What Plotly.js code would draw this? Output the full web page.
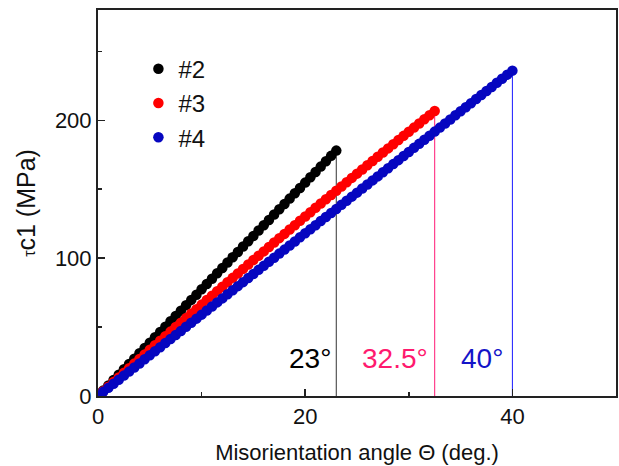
<!DOCTYPE html>
<html>
<head>
<meta charset="utf-8">
<script src="https://cdn.plot.ly/plotly-3.0.1.min.js"></script>
<style>html,body{margin:0;padding:0;background:#fff;}</style>
</head>
<body>
<div id="chart" style="width:619px;height:466px;"></div>
<script>
// Sampling step of the angle grid (deg.)
const step = 0.5;

// Series #2 (0 .. 23 deg.)
const tau2 = [0,3.9,7.7,11.6,15.5,19.4,23.2,27.1,31.0,34.8,38.7,42.6,46.4,50.3,54.2,58.1,61.9,65.8,69.7,73.5,77.4,81.3,85.1,89.0,92.9,96.8,100.6,104.5,108.4,112.2,116.1,120.0,123.8,127.7,131.6,135.5,139.3,143.2,147.1,150.9,154.8,158.7,162.5,166.4,170.3,174.2,178.0];

// Series #3 (0 .. 32.5 deg.)
const tau3 = [0,3.4,6.7,10.1,13.5,16.8,20.1,23.5,26.8,30.1,33.5,36.8,40.1,43.4,46.7,50.0,53.2,56.5,59.8,63.0,66.3,69.6,72.8,76.0,79.3,82.5,85.7,88.9,92.2,95.4,98.6,101.7,104.9,108.1,111.3,114.5,117.6,120.8,123.9,127.1,130.2,133.3,136.5,139.6,142.7,145.8,148.9,152.0,155.1,158.2,161.3,164.3,167.4,170.5,173.5,176.6,179.6,182.6,185.7,188.7,191.7,194.7,197.7,200.7,203.7,206.7];

// Series #4 (0 .. 40 deg.)
const tau4 = [0,3.0,5.9,8.9,11.8,14.8,17.7,20.7,23.6,26.6,29.5,32.5,35.4,38.4,41.3,44.3,47.2,50.2,53.1,56.1,59.0,62.0,64.9,67.9,70.8,73.8,76.7,79.7,82.6,85.6,88.5,91.5,94.4,97.4,100.3,103.3,106.2,109.2,112.1,115.1,118.0,121.0,123.9,126.9,129.8,132.8,135.7,138.7,141.6,144.6,147.5,150.5,153.4,156.4,159.3,162.3,165.2,168.2,171.1,174.1,177.0,180.0,182.9,185.9,188.8,191.8,194.7,197.7,200.6,203.6,206.5,209.5,212.4,215.4,218.3,221.3,224.2,227.2,230.1,233.1,236.0];

const seriesNames = ['#2', '#3', '#4'];
const critAngles = [23, 32.5, 40];
const critTau = [178.0, 206.7, 236.0];
const critLabels = ['23°', '32.5°', '40°'];

const xTicks = [0, 20, 40];
const yTicks = [0, 100, 200];

const markerColors = ['#000000', '#ff0000', '#0606c0'];
const vlineColors = ['#333333', '#ff1a75', '#1a1aff'];
const labelColors = ['#000000', '#ff1a6e', '#1414c8'];

const FONT = 'Arial, "Liberation Sans", sans-serif';

function angles(n) { return Array.from({length: n}, (_, i) => i * step); }

const allTau = [tau2, tau3, tau4];
const traces = [];
// vertical lines first (under markers)
critAngles.forEach((a, i) => {
  traces.push({
    x: [a, a], y: [0, critTau[i]], mode: 'lines', type: 'scatter',
    line: {color: vlineColors[i], width: 1}, showlegend: false, hoverinfo: 'skip'
  });
});
allTau.forEach((t, i) => {
  traces.push({
    x: angles(t.length), y: t, mode: 'markers', type: 'scatter',
    name: seriesNames[i],
    marker: {color: markerColors[i], size: 10.5}
  });
});

const annotations = critAngles.map((a, i) => ({
  x: [22.7, 32.0, 39.3][i], y: 27, xref: 'x', yref: 'y',
  text: critLabels[i], showarrow: false, xanchor: 'right', yanchor: 'middle',
  font: {family: FONT, size: 28, color: labelColors[i]}
}));

const layout = {
  width: 619, height: 466,
  margin: {l: 98, r: 3, t: 10, b: 70},
  paper_bgcolor: '#fff', plot_bgcolor: '#fff',
  font: {family: FONT, color: '#111'},
  showlegend: true,
  legend: {
    x: 0.078, y: 0.905, xanchor: 'left', yanchor: 'top',
    font: {family: FONT, size: 24, color: '#111'},
    bgcolor: 'rgba(0,0,0,0)', itemwidth: 30, tracegroupgap: 0
  },
  xaxis: {
    range: [0, 50], tickvals: xTicks, ticks: 'inside', ticklen: 7, tickwidth: 1.5,
    tickcolor: '#222', showline: true, linecolor: '#222', linewidth: 2, mirror: true,
    showgrid: false, zeroline: false,
    tickfont: {family: FONT, size: 22, color: '#111'},
    minor: {dtick: 10, ticks: 'inside', ticklen: 4, tickcolor: '#222', tickwidth: 1.5, showgrid: false},
    title: {text: 'Misorientation angle Θ (deg.)', font: {family: FONT, size: 22, color: '#111'}, standoff: 16}
  },
  yaxis: {
    range: [0, 280], tickvals: yTicks, ticks: 'inside', ticklen: 7, tickwidth: 1.5,
    tickcolor: '#222', showline: true, linecolor: '#222', linewidth: 2, mirror: true,
    showgrid: false, zeroline: false,
    tickfont: {family: FONT, size: 22, color: '#111'},
    minor: {dtick: 50, ticks: 'inside', ticklen: 4, tickcolor: '#222', tickwidth: 1.5, showgrid: false},
    title: {text: '<span style="font-size:16px">τ</span>c1 (MPa)', font: {family: FONT, size: 25, color: '#111'}, standoff: 12}
  },
  annotations: annotations
};

Plotly.newPlot('chart', traces, layout, {displayModeBar: false, staticPlot: true});
</script>
</body>
</html>
